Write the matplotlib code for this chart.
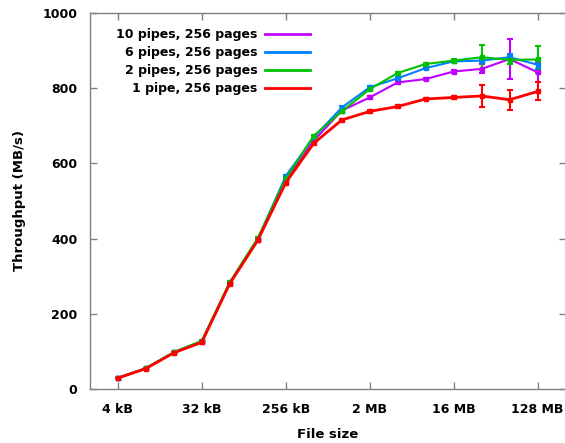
import matplotlib
matplotlib.use("Agg")
import matplotlib.pyplot as plt

plt.rcParams['font.family'] = ['DejaVu Sans Condensed', 'DejaVu Sans']
plt.rcParams['font.weight'] = 'bold'

# file sizes in kB, 4 kB .. 128 MB
sizes_kb = [4, 8, 16, 32, 64, 128, 256, 512, 1024, 2048, 4096, 8192,
            16384, 32768, 65536, 131072]
tick_kb = [4, 32, 256, 2048, 16384, 131072]
tick_labels = ['4 kB', '32 kB', '256 kB', '2 MB', '16 MB', '128 MB']

# throughput in MB/s
pipes10 = [29, 55, 97, 126, 281, 397, 555, 660, 740, 775, 815, 824, 844, 851, 877, 842]
pipes6 = [29, 55, 97, 127, 282, 398, 566, 669, 748, 802, 826, 853, 871, 873, 882, 862]
pipes2 = [29, 55, 98, 128, 284, 401, 559, 673, 738, 797, 840, 864, 873, 882, 875, 876]
pipes1 = [29, 54, 96, 124, 280, 395, 548, 653, 715, 738, 751, 771, 775, 779, 769, 791]

err10 = [1, 1, 1, 1, 2, 2, 2, 2, 3, 3, 3, 3, 3, 12, 54, 25]
err6 = [1, 1, 1, 1, 2, 2, 2, 2, 3, 3, 3, 3, 3, 5, 8, 10]
err2 = [1, 1, 1, 1, 2, 2, 2, 2, 3, 3, 3, 3, 3, 33, 10, 36]
err1 = [1, 1, 1, 1, 2, 2, 2, 2, 3, 3, 3, 3, 4, 30, 26, 24]

series = [
    ('10 pipes, 256 pages', pipes10, err10, '#c000ff'),
    ('6 pipes, 256 pages', pipes6, err6, '#0080ff'),
    ('2 pipes, 256 pages', pipes2, err2, '#00c000'),
    ('1 pipe, 256 pages', pipes1, err1, '#ff0000'),
]

fig = plt.figure(figsize=(5.65, 4.43), dpi=100)
ax = fig.add_axes([0.159, 0.122, 0.842, 0.849])

for label, vals, err, color in series:
    lw = 2.0 if color == '#ff0000' else 1.5
    ax.errorbar(sizes_kb, vals, yerr=err, color=color, lw=lw, marker='s', ms=2.5,
                capsize=2.5, elinewidth=1.5, capthick=1.5, label=label)

ax.set_xscale('log', base=2)
ax.set_xlim(2, 262144)
ax.set_ylim(0, 1000)
ax.set_xticks(tick_kb)
ax.set_xticklabels(tick_labels)
ax.set_yticks([0, 200, 400, 600, 800, 1000])
ax.minorticks_off()
ax.tick_params(direction='in', length=5, width=1, color='#808080',
               top=True, right=True, labelsize=9, pad=10)
ax.tick_params(axis='y', pad=9)
for sp in ax.spines.values():
    sp.set_color('#808080')
    sp.set_linewidth(1)

ax.set_xlabel('File size', fontsize=9.5, fontweight='bold', labelpad=9)
ax.set_ylabel('Throughput (MB/s)', fontsize=9.5, fontweight='bold', labelpad=12)

handles, labels = ax.get_legend_handles_labels()
lines = [plt.Line2D([], [], color=h[0].get_color(), lw=2) for h in handles]
ax.legend(lines, labels, loc='upper left', bbox_to_anchor=(0.042, 0.975),
          frameon=False, markerfirst=False, fontsize=9, handlelength=3.6,
          handletextpad=0.6, labelspacing=0.4, borderpad=0)

fig.savefig('out.png', dpi=100)
